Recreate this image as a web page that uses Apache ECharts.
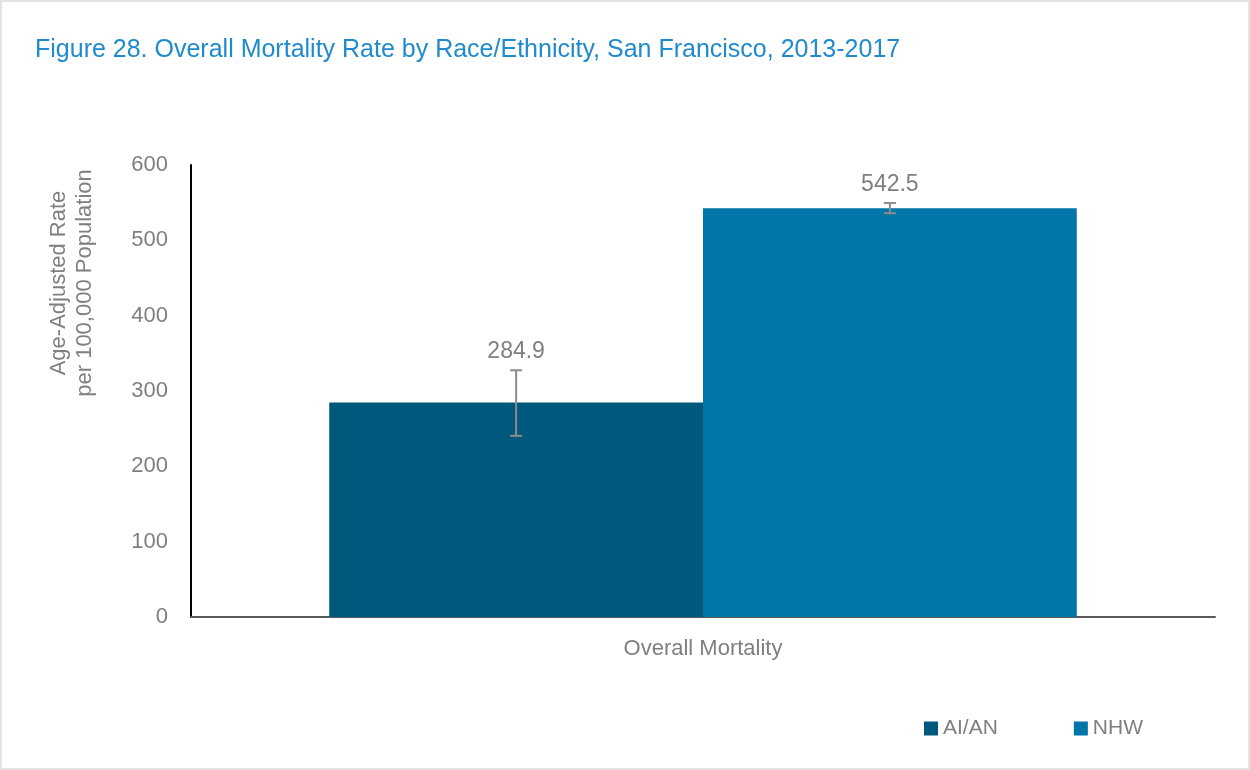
<!DOCTYPE html>
<html>
<head>
<meta charset="utf-8">
<script src="https://cdn.jsdelivr.net/npm/echarts@6/dist/echarts.min.js"></script>
<style>
  html, body { margin: 0; padding: 0; background: #fff; }
  #main { width: 1246px; height: 766px; border: 2px solid #e3e3e3; }
</style>
</head>
<body>
<div id="main"></div>
<script>
// data
var categories = ['Overall Mortality'];
var seriesNames = ['AI/AN', 'NHW'];
var rates = [284.9, 542.5];
var ciLow = [240.5, 536.0];
var ciHigh = [327.5, 549.5];
var yTicks = { min: 0, max: 600, step: 100 };
var yTitle = ['Age-Adjusted Rate', 'per 100,000 Population'];

var FONT = "'Liberation Sans Narrow', 'Arial Narrow', 'Liberation Sans', sans-serif";
var colors = ['#00587d', '#0075a8'];
var GAP = 0.27;   // barCategoryGap

var chart = echarts.init(document.getElementById('main'));

// error bar + value label for bar i of 2 (barGap 0)
function errRender(i) {
  return function (params, api) {
    var band = api.size([1, 0])[0];
    var barW = band * (1 - GAP) / 2;
    var c = api.coord([0, api.value(1)]);
    var x = c[0] + (i === 0 ? -barW / 2 : barW / 2);
    var yHi = api.coord([0, api.value(2)])[1];
    var yLo = api.coord([0, api.value(1)])[1];
    var st = { stroke: '#8c8c8c', lineWidth: 2 };
    return {
      type: 'group',
      children: [
        { type: 'line', shape: { x1: x, y1: yHi, x2: x, y2: yLo }, style: st },
        { type: 'line', shape: { x1: x - 6, y1: yHi, x2: x + 6, y2: yHi }, style: st },
        { type: 'line', shape: { x1: x - 6, y1: yLo, x2: x + 6, y2: yLo }, style: st },
        { type: 'text', x: x, y: yHi - 7, style: {
            text: api.value(3).toFixed(1), fill: '#7f7f7f', font: '23px ' + FONT,
            align: 'center', verticalAlign: 'bottom' } }
      ]
    };
  };
}

var series = [];
seriesNames.forEach(function (n, i) {
  series.push({
    name: n, type: 'bar', data: [rates[i]],
    barGap: '0%', barCategoryGap: (GAP * 100) + '%',
    itemStyle: { color: colors[i] }
  });
});
seriesNames.forEach(function (n, i) {
  series.push({
    type: 'custom', renderItem: errRender(i), z: 10,
    data: [[0, ciLow[i], ciHigh[i], rates[i]]]
  });
});

chart.setOption({
  animation: false,
  textStyle: { fontFamily: FONT },
  title: {
    text: 'Figure 28. Overall Mortality Rate by Race/Ethnicity, San Francisco, 2013-2017',
    left: 28, top: 31,
    textStyle: { color: '#1f8bcc', fontSize: 25, fontWeight: 'normal', fontFamily: FONT }
  },
  legend: {
    data: seriesNames, right: 100, top: 711,
    itemWidth: 14, itemHeight: 14, itemGap: 76, icon: 'rect',
    textStyle: { color: '#7f7f7f', fontSize: 21, fontFamily: FONT }
  },
  // y-axis title sits above the axis middle in the original, so placed as graphic text
  graphic: [{
    type: 'text', x: 70, y: 281, rotation: Math.PI / 2,
    style: {
      text: yTitle.join('\n'), fill: '#7f7f7f', font: '22px ' + FONT,
      lineHeight: 26, align: 'center', verticalAlign: 'middle'
    }
  }],
  grid: { left: 189, right: 33, top: 163, bottom: 151 },
  xAxis: {
    type: 'category', data: categories,
    axisLine: { lineStyle: { color: '#595959', width: 2 } },
    axisTick: { show: false },
    axisLabel: { color: '#7f7f7f', fontSize: 22, margin: 21, fontFamily: FONT }
  },
  yAxis: {
    type: 'value', min: yTicks.min, max: yTicks.max, interval: yTicks.step,
    axisLine: { show: true, lineStyle: { color: '#000', width: 2 } },
    axisTick: { show: false },
    splitLine: { show: false },
    axisLabel: { color: '#7f7f7f', fontSize: 22, margin: 23, fontFamily: FONT }
  },
  series: series
});
</script>
</body>
</html>
